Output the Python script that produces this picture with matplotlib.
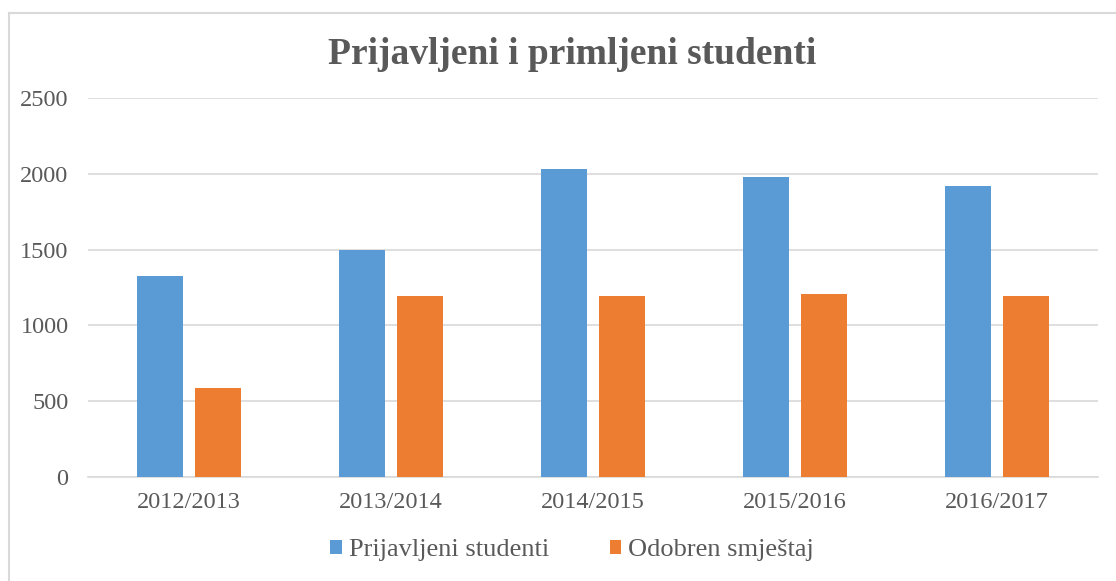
import numpy as np
import matplotlib.pyplot as plt
from matplotlib.lines import Line2D

# ── Data ────────────────────────────────────────────────────────
years = ["2012/2013", "2013/2014", "2014/2015", "2015/2016", "2016/2017"]
prijavljeni = [1324, 1496, 2034, 1981, 1919]
odobren = [587, 1191, 1191, 1209, 1191]
yticks = [0, 500, 1000, 1500, 2000, 2500]

COL_BLUE = "#5B9BD5"
COL_ORANGE = "#ED7D31"
COL_TEXT = "#595959"
COL_GRID = "#D9D9D9"

plt.rcParams['font.family'] = ['Liberation Serif', 'DejaVu Serif']

W, H = 1116, 581
fig = plt.figure(figsize=(W / 100, H / 100), dpi=100)
ax = fig.add_axes([88 / W, 1 - 477 / H, (1098 - 88) / W, (477 - 98) / H])

x = np.arange(len(years))
w = 0.228
off = 0.1436
ax.bar(x - off, prijavljeni, w, color=COL_BLUE, label="Prijavljeni studenti", zorder=3)
ax.bar(x + off, odobren, w, color=COL_ORANGE, label="Odobren smještaj", zorder=3)

ax.set_xlim(-0.5, len(years) - 0.5)
ax.set_ylim(0, 2500)
ax.set_yticks(yticks)
ax.set_xticks(x)
ax.set_xticklabels(years)
ax.grid(axis='y', color=COL_GRID, lw=1.2, zorder=0)
for s in ['top', 'right', 'left']:
    ax.spines[s].set_visible(False)
ax.spines['bottom'].set_color(COL_GRID)
ax.spines['bottom'].set_linewidth(1.2)
ax.tick_params(axis='both', length=0, labelsize=17.5, labelcolor=COL_TEXT)
ax.tick_params(axis='y', pad=14)
ax.tick_params(axis='x', pad=11)

cx = 572 / W
fig.text(cx, 1 - 55 / H, "Prijavljeni i primljeni studenti", ha='center', va='center',
         fontsize=27, fontweight='bold', color=COL_TEXT)

leg = fig.legend(loc='center', bbox_to_anchor=(cx, 1 - 550 / H), ncol=2, frameon=False,
                 fontsize=19, handlelength=0.45, handleheight=0.45, columnspacing=2.3,
                 handletextpad=0.25)
for t in leg.get_texts():
    t.set_color(COL_TEXT)

# chart border (only top and left edges visible in the crop)
bx, by = 8.5 / W, 1 - 12.5 / H
fig.add_artist(Line2D([bx, 1.0], [by, by], transform=fig.transFigure, color=COL_GRID, lw=1.5))
fig.add_artist(Line2D([bx, bx], [0.0, by], transform=fig.transFigure, color=COL_GRID, lw=1.5))

fig.savefig("out.png", dpi=100, facecolor='white')
